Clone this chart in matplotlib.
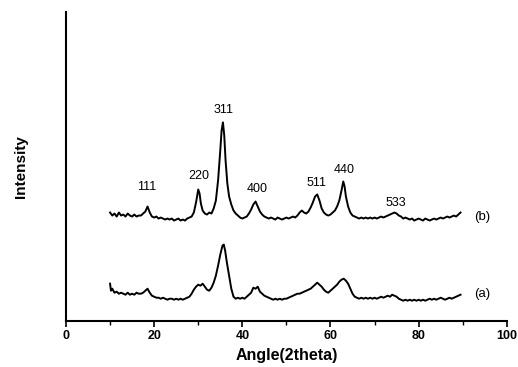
import matplotlib
matplotlib.use("Agg")
import matplotlib.pyplot as plt
from matplotlib.ticker import MultipleLocator

plt.rcParams['font.family'] = ['Liberation Sans', 'DejaVu Sans']

# Curve (b): angle (2theta) and intensity (arb. units)
angle_b = [10.0, 10.5, 11, 11.5, 12, 12.5, 13, 13.5, 14, 14.5, 15, 15.5, 16, 16.5, 17, 17.5, 18, 18.5, 19, 19.5,
           20, 20.5, 21, 21.5, 22, 22.5, 23, 23.5, 24, 24.5, 25, 25.5, 26, 26.5, 27, 27.5, 28, 28.5, 29, 29.5,
           30, 30.3, 30.6, 31, 31.5, 32, 32.5, 33, 33.5, 34, 34.5, 35, 35.3, 35.6, 35.9, 36.2, 36.6, 37, 37.5, 38,
           38.5, 39, 39.5, 40, 40.5, 41, 41.5, 42, 42.5, 43, 43.5, 44, 44.5, 45, 45.5, 46, 46.5, 47, 47.5, 48,
           48.5, 49, 49.5, 50, 50.5, 51, 51.5, 52, 52.5, 53, 53.5, 54, 54.5, 55, 55.5, 56, 56.5, 57, 57.5, 58,
           58.5, 59, 59.5, 60, 60.5, 61, 61.5, 62, 62.5, 62.9, 63.2, 63.5, 64, 64.5, 65, 65.5, 66, 66.5, 67, 67.5,
           68, 68.5, 69, 69.5, 70, 70.5, 71, 71.5, 72, 72.5, 73, 73.5, 74, 74.5, 75, 75.5, 76, 76.5, 77, 77.5,
           78, 78.5, 79, 79.5, 80, 80.5, 81, 81.5, 82, 82.5, 83, 83.5, 84, 84.5, 85, 85.5, 86, 86.5, 87, 87.5,
           88, 88.5, 89, 89.5]
intensity_b = [108, 105, 107, 104, 108, 105, 106, 104, 107, 105, 104, 106, 104, 105, 105, 107, 109, 114, 108, 104,
               103, 104, 102, 103, 102, 101, 102, 101, 102, 100, 101, 102, 100, 101, 100, 102, 103, 104, 108, 118,
               131, 127, 117, 110, 107, 106, 108, 107, 112, 120, 140, 170, 190, 198, 185, 160, 137, 124, 116, 110,
               107, 105, 103, 102, 103, 104, 107, 111, 116, 119, 114, 109, 106, 104, 103, 102, 103, 102, 101, 103,
               102, 101, 102, 103, 102, 103, 104, 103, 105, 108, 110, 108, 107, 109, 113, 118, 124, 126, 120, 112,
               108, 106, 105, 106, 108, 110, 114, 120, 130, 139, 134, 124, 114, 108, 105, 104, 103, 102, 103, 102,
               103, 102, 103, 102, 103, 102, 103, 104, 103, 104, 105, 106, 107, 108, 107, 105, 104, 102, 103, 102,
               101, 102, 100, 101, 102, 101, 100, 102, 101, 100, 101, 102, 101, 102, 103, 102, 103, 104, 103, 104,
               105, 104, 106, 108]

# Curve (a)
angle_a = [10.0, 10.2, 10.5, 11, 11.5, 12, 12.5, 13, 13.5, 14, 14.5, 15, 15.5, 16, 16.5, 17, 17.5, 18, 18.5, 19,
           19.5, 20, 20.5, 21, 21.5, 22, 22.5, 23, 23.5, 24, 24.5, 25, 25.5, 26, 26.5, 27, 27.5, 28, 28.5, 29,
           29.5, 30, 30.5, 31, 31.5, 32, 32.5, 33, 33.5, 34, 34.5, 35, 35.5, 35.8, 36.1, 36.5, 37, 37.5, 38, 38.5,
           39, 39.5, 40, 40.5, 41, 41.5, 42, 42.5, 43, 43.5, 44, 44.5, 45, 45.5, 46, 46.5, 47, 47.5, 48, 48.5,
           49, 49.5, 50, 50.5, 51, 51.5, 52, 52.5, 53, 53.5, 54, 54.5, 55, 55.5, 56, 56.5, 57, 57.5, 58, 58.5,
           59, 59.5, 60, 60.5, 61, 61.5, 62, 62.5, 63, 63.5, 64, 64.5, 65, 65.5, 66, 66.5, 67, 67.5, 68, 68.5,
           69, 69.5, 70, 70.5, 71, 71.5, 72, 72.5, 73, 73.5, 74, 74.5, 75, 75.5, 76, 76.5, 77, 77.5, 78, 78.5,
           79, 79.5, 80, 80.5, 81, 81.5, 82, 82.5, 83, 83.5, 84, 84.5, 85, 85.5, 86, 86.5, 87, 87.5, 88, 88.5,
           89, 89.5]
intensity_a = [37, 30, 32, 28, 29, 27, 28, 27, 26, 28, 26, 27, 26, 28, 27, 27, 28, 30, 32, 28,
               25, 24, 23, 23, 22, 23, 22, 21, 22, 22, 21, 22, 21, 22, 21, 22, 23, 24, 27, 31,
               34, 36, 35, 37, 34, 31, 30, 33, 38, 45, 55, 66, 75, 76, 70, 58, 45, 32, 24, 22,
               23, 22, 23, 22, 24, 26, 28, 33, 32, 34, 29, 27, 25, 24, 23, 22, 21, 22, 21, 22,
               21, 22, 22, 23, 24, 25, 26, 27, 27, 28, 29, 30, 31, 32, 34, 36, 38, 36, 34, 31,
               29, 28, 30, 32, 34, 36, 39, 41, 42, 40, 37, 32, 27, 24, 23, 22, 23, 22, 23, 22,
               23, 22, 23, 22, 23, 24, 23, 24, 25, 24, 26, 25, 24, 22, 21, 20, 21, 20, 21, 20,
               21, 20, 21, 20, 21, 20, 21, 22, 21, 22, 21, 22, 23, 22, 21, 22, 23, 22, 23, 24,
               25, 26]

# Peak (hkl) labels
peak_labels = ["111", "220", "311", "400", "511", "440", "533"]
peak_angles = [18.4, 30.2, 35.8, 43.3, 56.9, 63.0, 74.8]
peak_label_heights = [133, 144, 210, 131, 137, 150, 118]

curve_labels = ["(b)", "(a)"]
curve_label_angle = 94.5
curve_label_heights = [104, 27]

fig = plt.figure(figsize=(5.18, 3.67), dpi=100)
ax = fig.add_axes([0.1274, 0.126, 0.851, 0.841])

ax.plot(angle_b, intensity_b, color='black', lw=1.4)
ax.plot(angle_a, intensity_a, color='black', lw=1.4)

for lab, xa, ya in zip(peak_labels, peak_angles, peak_label_heights):
    ax.text(xa, ya, lab, ha='center', va='center', fontsize=9)
for lab, ya in zip(curve_labels, curve_label_heights):
    ax.text(curve_label_angle, ya, lab, ha='center', va='center', fontsize=9.5)

ax.set_xlim(0, 100)
ax.set_ylim(0, 308)
ax.xaxis.set_major_locator(MultipleLocator(20))
ax.xaxis.set_minor_locator(MultipleLocator(10))
ax.tick_params(axis='x', which='major', direction='out', length=4, width=1.2, labelsize=9, pad=3)
ax.tick_params(axis='x', which='minor', direction='out', length=3, width=1.0)
for t in ax.get_xticklabels():
    t.set_fontweight('bold')
ax.set_yticks([])

ax.spines['top'].set_visible(False)
ax.spines['right'].set_visible(False)
ax.spines['left'].set_linewidth(1.5)
ax.spines['bottom'].set_linewidth(1.5)

ax.set_xlabel("Angle(2theta)", fontsize=11.5, fontweight='bold', labelpad=4)
ax.set_ylabel("Intensity", fontsize=11, fontweight='bold', labelpad=27)

fig.savefig("out.png", dpi=100)
